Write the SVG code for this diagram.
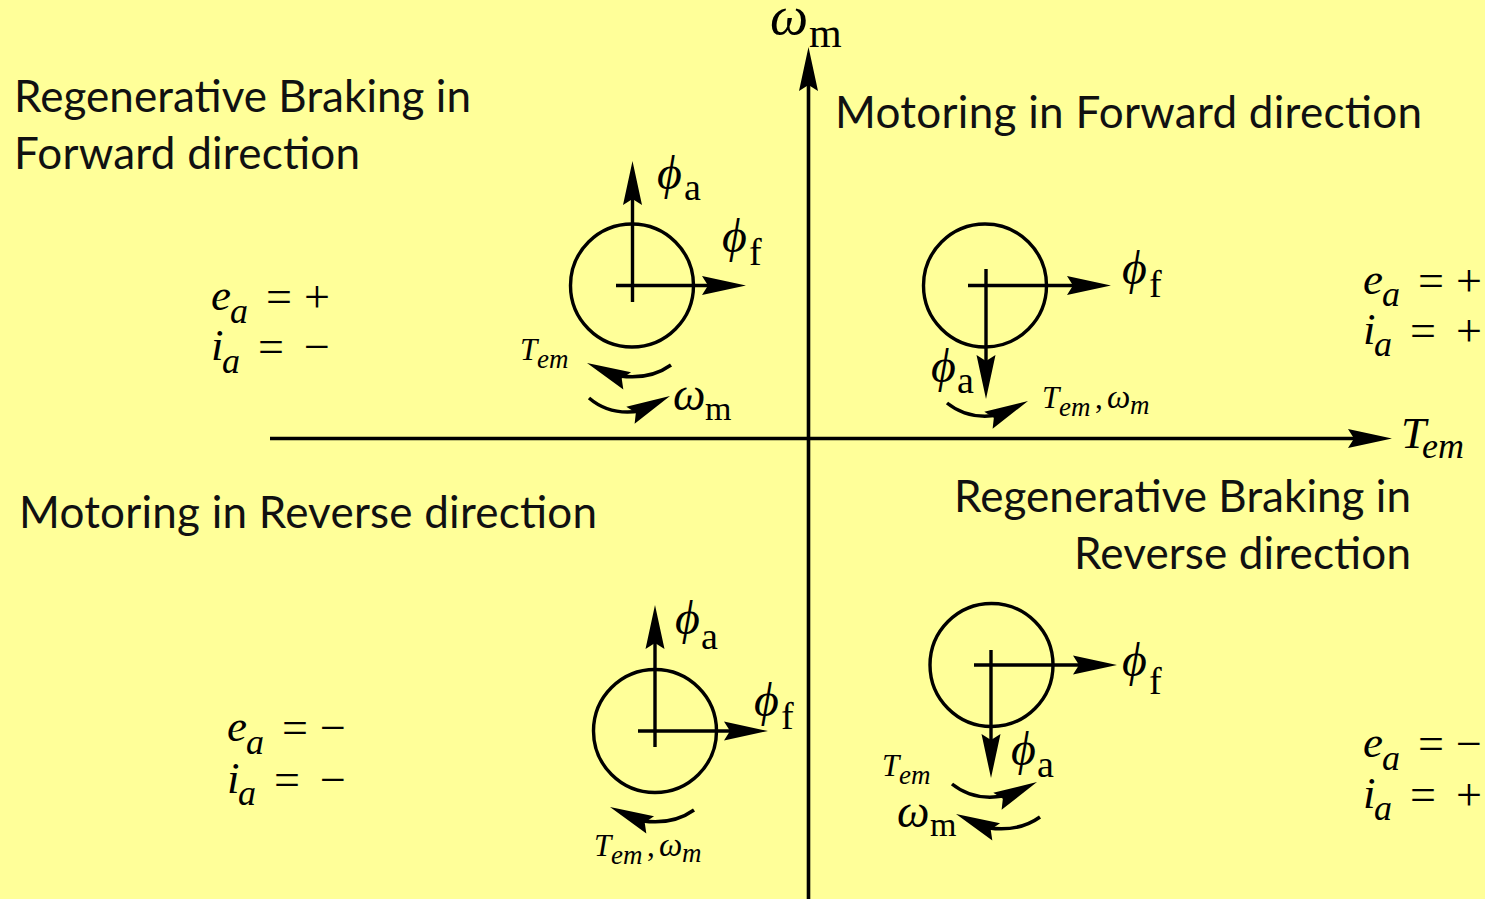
<svg xmlns="http://www.w3.org/2000/svg" xmlns:xlink="http://www.w3.org/1999/xlink" width="1485" height="899" viewBox="0 0 1485 899">
<style>
.h{font-family:Lato,"Noto Sans",sans-serif;font-size:44px;fill:#111}
.m{font-family:"Liberation Serif",serif;font-size:45px;fill:#000}
.i{font-style:italic}
.s{font-size:36px}
.u{font-size:38px}
.n{font-size:34px}
.p{font-size:48px}
.w{font-size:46px}
.o{font-size:46px}
.ts{font-size:31px}
.tw{font-size:33px}
.tss{font-size:27px}
.l{fill:none;stroke:#000;stroke-width:3.4}
.ax{fill:none;stroke:#000;stroke-width:3.6}
.rc{fill:none;stroke:#000;stroke-width:3.5}
</style>
<defs>
<path id="head" d="M0,0L-44,-9.500L-38,0L-44,9.500Z" fill="#000"/>
</defs>
<rect width="1485" height="899" fill="#ffff99"/>
<g id="connectors">
<path class="ax" d="M808.500,899V80M270,438.500H1360"/>
<use xlink:href="#head" transform="translate(808.500,47) rotate(-90)"/>
<use xlink:href="#head" transform="translate(1392,438.500)"/>
</g>
<g id="q1-rotor">
<circle class="l" cx="632" cy="285.500" r="61.500"/>
<path class="l" d="M632.500,302V198M616,285.500H708"/>
<use xlink:href="#head" transform="translate(632.500,161) rotate(-90)"/>
<use xlink:href="#head" transform="translate(746,285.500)"/>
<path class="rc" d="M671,365Q650,380 620,376"/>
<use xlink:href="#head" transform="translate(587,363) rotate(-156)"/>
<path class="rc" d="M589,398Q610,416 640,411"/>
<use xlink:href="#head" transform="translate(670,396) rotate(-26)"/>
</g>
<g id="q2-rotor">
<circle class="l" cx="985" cy="285.500" r="61.500"/>
<path class="l" d="M986,269V362M968,285.500H1074"/>
<use xlink:href="#head" transform="translate(986,399) rotate(90)"/>
<use xlink:href="#head" transform="translate(1111,285.500)"/>
<path class="rc" d="M947,403Q968,420 998,415"/>
<use xlink:href="#head" transform="translate(1028,401) rotate(-26)"/>
</g>
<g id="q3-rotor">
<circle class="l" cx="655" cy="731" r="61.500"/>
<path class="l" d="M655,747V642M638,731H732"/>
<use xlink:href="#head" transform="translate(655,605) rotate(-90)"/>
<use xlink:href="#head" transform="translate(768,731)"/>
<path class="rc" d="M694,810Q673,825 643,821"/>
<use xlink:href="#head" transform="translate(610,807) rotate(-156)"/>
</g>
<g id="q4-rotor">
<circle class="l" cx="991.500" cy="665" r="61.500"/>
<path class="l" d="M991,650V742M974,665H1081"/>
<use xlink:href="#head" transform="translate(991,778) rotate(90)"/>
<use xlink:href="#head" transform="translate(1117,665)"/>
<path class="rc" d="M952,784Q973,801 1003,796"/>
<use xlink:href="#head" transform="translate(1037,782) rotate(-26)"/>
<path class="rc" d="M1040,817Q1019,832 989,828"/>
<use xlink:href="#head" transform="translate(956,814) rotate(-156)"/>
</g>
<g id="titles">
<text class="h" x="14" y="111.500" textLength="457">Regenerative Braking in</text>
<text class="h" x="14" y="168.500" textLength="346">Forward direction</text>
<text class="h" x="835" y="127.500" textLength="587">Motoring in Forward direction</text>
<text class="h" x="19" y="527.500" textLength="578">Motoring in Reverse direction</text>
<text class="h" x="954" y="511.500" textLength="457">Regenerative Braking in</text>
<text class="h" x="1074" y="568.500" textLength="337">Reverse direction</text>
</g>
<g id="axis-labels">
<text class="m"><tspan class="i" style="font-size:54px" x="770" y="34">ω</tspan><tspan style="font-size:42px" x="809" y="47">m</tspan></text>
<text class="m"><tspan class="i" x="1401" y="448">T</tspan><tspan class="i s" x="1422" y="458">em</tspan></text>
</g>
<g id="q1-labels">
<text class="m"><tspan class="i p" x="657" y="189">ϕ</tspan><tspan class="u" x="684" y="200">a</tspan></text>
<text class="m"><tspan class="i p" x="722" y="252">ϕ</tspan><tspan class="u" x="749" y="265">f</tspan></text>
<text class="m"><tspan class="i ts" x="520" y="360">T</tspan><tspan class="i tss" x="537" y="368">em</tspan></text>
<text class="m"><tspan class="i w" x="673" y="410">ω</tspan><tspan class="n" x="705" y="420">m</tspan></text>
<text class="m"><tspan class="i" x="211" y="310">e</tspan><tspan class="i s" x="230" y="323">a</tspan><tspan class="o" x="266" y="312">=</tspan><tspan class="o" x="304" y="312">+</tspan></text>
<text class="m"><tspan class="i" x="211" y="360">i</tspan><tspan class="i s" x="222" y="373">a</tspan><tspan class="o" x="258" y="362">=</tspan><tspan class="o" x="304" y="362">−</tspan></text>
</g>
<g id="q2-labels">
<text class="m"><tspan class="i p" x="1122" y="284">ϕ</tspan><tspan class="u" x="1149" y="297">f</tspan></text>
<text class="m"><tspan class="i p" x="931" y="382">ϕ</tspan><tspan class="u" x="957" y="393">a</tspan></text>
<text class="m"><tspan class="i ts" x="1042" y="408">T</tspan><tspan class="i tss" x="1059" y="416">em</tspan><tspan class="ts" x="1095" y="408">,</tspan><tspan class="i tw" x="1107" y="408">ω</tspan><tspan class="i tss" x="1130" y="414">m</tspan></text>
<text class="m"><tspan class="i" x="1363" y="294">e</tspan><tspan class="i s" x="1382" y="306">a</tspan><tspan class="o" x="1418" y="296">=</tspan><tspan class="o" x="1456" y="296">+</tspan></text>
<text class="m"><tspan class="i" x="1363" y="344">i</tspan><tspan class="i s" x="1374" y="356">a</tspan><tspan class="o" x="1410" y="346">=</tspan><tspan class="o" x="1456" y="346">+</tspan></text>
</g>
<g id="q3-labels">
<text class="m"><tspan class="i p" x="675" y="634">ϕ</tspan><tspan class="u" x="701" y="649">a</tspan></text>
<text class="m"><tspan class="i p" x="754" y="716">ϕ</tspan><tspan class="u" x="781" y="729">f</tspan></text>
<text class="m"><tspan class="i ts" x="594" y="856">T</tspan><tspan class="i tss" x="611" y="864">em</tspan><tspan class="ts" x="647" y="856">,</tspan><tspan class="i tw" x="659" y="856">ω</tspan><tspan class="i tss" x="682" y="862">m</tspan></text>
<text class="m"><tspan class="i" x="227" y="741">e</tspan><tspan class="i s" x="246" y="754">a</tspan><tspan class="o" x="282" y="743">=</tspan><tspan class="o" x="320" y="743">−</tspan></text>
<text class="m"><tspan class="i" x="227" y="793">i</tspan><tspan class="i s" x="238" y="805">a</tspan><tspan class="o" x="274" y="795">=</tspan><tspan class="o" x="320" y="795">−</tspan></text>
</g>
<g id="q4-labels">
<text class="m"><tspan class="i p" x="1122" y="676">ϕ</tspan><tspan class="u" x="1149" y="694">f</tspan></text>
<text class="m"><tspan class="i p" x="1011" y="765">ϕ</tspan><tspan class="u" x="1037" y="777">a</tspan></text>
<text class="m"><tspan class="i ts" x="882" y="776">T</tspan><tspan class="i tss" x="899" y="784">em</tspan></text>
<text class="m"><tspan class="i w" x="897" y="827">ω</tspan><tspan class="n" x="930" y="836">m</tspan></text>
<text class="m"><tspan class="i" x="1363" y="757">e</tspan><tspan class="i s" x="1382" y="770">a</tspan><tspan class="o" x="1418" y="759">=</tspan><tspan class="o" x="1456" y="759">−</tspan></text>
<text class="m"><tspan class="i" x="1363" y="808">i</tspan><tspan class="i s" x="1374" y="820">a</tspan><tspan class="o" x="1410" y="810">=</tspan><tspan class="o" x="1456" y="810">+</tspan></text>
</g>
</svg>
